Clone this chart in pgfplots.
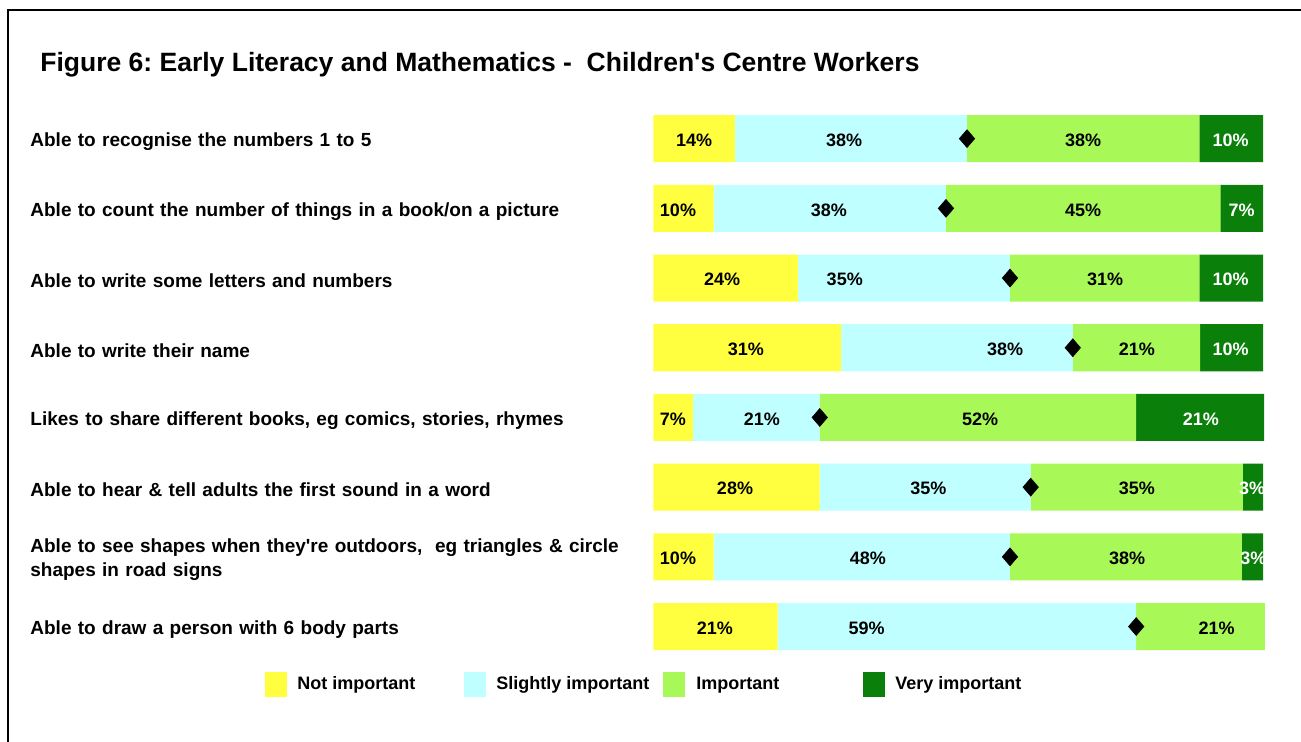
\documentclass[border=0pt]{standalone}
\usepackage{pgfplots}
\pgfplotsset{compat=1.18}
\usepackage{pgfplotstable}
\usepackage{fontspec}
\setmainfont{Liberation Sans}
\frenchspacing
\definecolor{notimp}{HTML}{FFFF40}
\definecolor{slight}{HTML}{C0FFFF}
\definecolor{imp}{HTML}{A8F858}
\definecolor{very}{HTML}{0A7F0A}

% segment widths (percent)
\pgfplotstableread{
row vnot vslight vimp vvery
1 13.4 38.05 38.1 10.45
2 9.9 38.1 45.0 7.0
3 23.7 34.8 31.05 10.45
4 30.8 38.0 20.9 10.3
5 6.5 20.8 51.9 21.0
6 27.3 34.6 34.8 3.3
7 9.9 48.6 38.05 3.45
8 20.4 58.8 21.1 0
}\tabdata

% diamonds at end of "slightly important"
\pgfplotstableread{
row cum
1 51.45
2 48.0
3 58.5
4 68.8
5 27.3
6 61.9
7 58.5
8 79.2
}\tabcum

% data labels (position, row, value) - black
\pgfplotstableread{
x y v
6.7 1 14
31.3 1 38
70.5 1 38
4.05 2 10
28.8 2 38
70.5 2 45
11.3 3 24
31.4 3 35
74.1 3 31
15.2 4 31
57.7 4 38
79.3 4 21
3.2 5 7
17.8 5 21
53.6 5 52
13.4 6 28
45.1 6 35
79.3 6 35
4.05 7 10
35.2 7 48
77.7 7 38
10.1 8 21
35.0 8 59
92.4 8 21
}\tablblack

% data labels - white (very important)
\pgfplotstableread{
x y v
94.7 1 10
96.5 2 7
94.7 3 10
94.7 4 10
89.8 5 21
98.2 6 3
98.4 7 3
}\tablwhite

\tikzset{
  lbl/.style={font=\bfseries\fontsize{9}{11}\selectfont, inner sep=0pt, anchor=center, yshift=-0.75pt},
  lgd/.style={anchor=west, inner sep=0pt, font=\bfseries\fontsize{9}{11}\selectfont},
}
\pgfplotsset{
  mybase/.style={
    scale only axis, width=304.85pt, height=278.8pt,
    at={(326.65pt,40.3pt)}, anchor=south west,
    xmin=0, xmax=100, ymin=0.5, ymax=8.5, y dir=reverse,
    axis line style={draw=none}, major tick length=0pt,
    clip=false, xtick=\empty,
  },
  labelplot/.style={draw=none, mark=none, point meta=explicit,
    nodes near coords={\pgfmathprintnumber[fixed,precision=0,assume math mode=true]{\pgfplotspointmeta}\%},
    nodes near coords align=center,
    every node near coord/.style={lbl, text=#1}},
}

\begin{document}
\begin{tikzpicture}
\path[use as bounding box] (0,0) rectangle (650.5pt,371pt);
\draw[line width=0.8pt] (4pt,0) -- (4pt,366pt) -- (651pt,366pt);
\node[anchor=west, font=\bfseries\fontsize{13.25}{16}\selectfont, inner sep=0pt] at (20pt,338.8pt)
  {Figure 6: Early Literacy and Mathematics -\ \ Children\textquotesingle s Centre Workers};

\begin{axis}[mybase,
  xbar stacked, bar width=0.675,
  ytick={1,2,3,4,5,6,7,8},
  yticklabels={
    {Able to recognise the numbers 1 to 5},
    {Able to count the number of things in a book/on a picture},
    {Able to write some letters and numbers},
    {Able to write their name},
    {Likes to share different books, eg comics, stories, rhymes},
    {Able to hear \& tell adults the first sound in a word},
    {Able to see shapes when they\textquotesingle re outdoors,\ \ eg triangles \& circle\\shapes in road signs},
    {Able to draw a person with 6 body parts}},
  yticklabel style={anchor=west, xshift=-311.65pt, yshift=-1.5pt, inner sep=0pt, text width=300pt, align=left,
    font=\bfseries\fontsize{9.5}{12}\selectfont},
]
\addplot[fill=notimp, draw=none] table[x=vnot, y=row] {\tabdata};
\addplot[fill=slight, draw=none] table[x=vslight, y=row] {\tabdata};
\addplot[fill=imp, draw=none] table[x=vimp, y=row] {\tabdata};
\addplot[fill=very, draw=none] table[x=vvery, y=row] {\tabdata};
\end{axis}

\begin{axis}[mybase, ytick=\empty]
\addplot[only marks, mark=diamond*, mark size=4.4pt, black, mark options={xscale=1.15}] table[x=cum, y=row] {\tabcum};
\addplot[labelplot=black] table[x=x, y=y, meta=v] {\tablblack};
\addplot[labelplot=white] table[x=x, y=y, meta=v] {\tablwhite};
\end{axis}

% legend
\fill[notimp] (132.5pt,22.5pt) rectangle (143.5pt,35pt);
\node[lgd] at (148.5pt,28.5pt) {Not important};
\fill[slight] (232pt,22.5pt) rectangle (243pt,35pt);
\node[lgd] at (248pt,28.5pt) {Slightly important};
\fill[imp] (331.5pt,22.5pt) rectangle (342.5pt,35pt);
\node[lgd] at (348pt,28.5pt) {Important};
\fill[very] (431.5pt,22.5pt) rectangle (442.5pt,35pt);
\node[lgd] at (447.5pt,28.5pt) {Very important};
\end{tikzpicture}
\end{document}
